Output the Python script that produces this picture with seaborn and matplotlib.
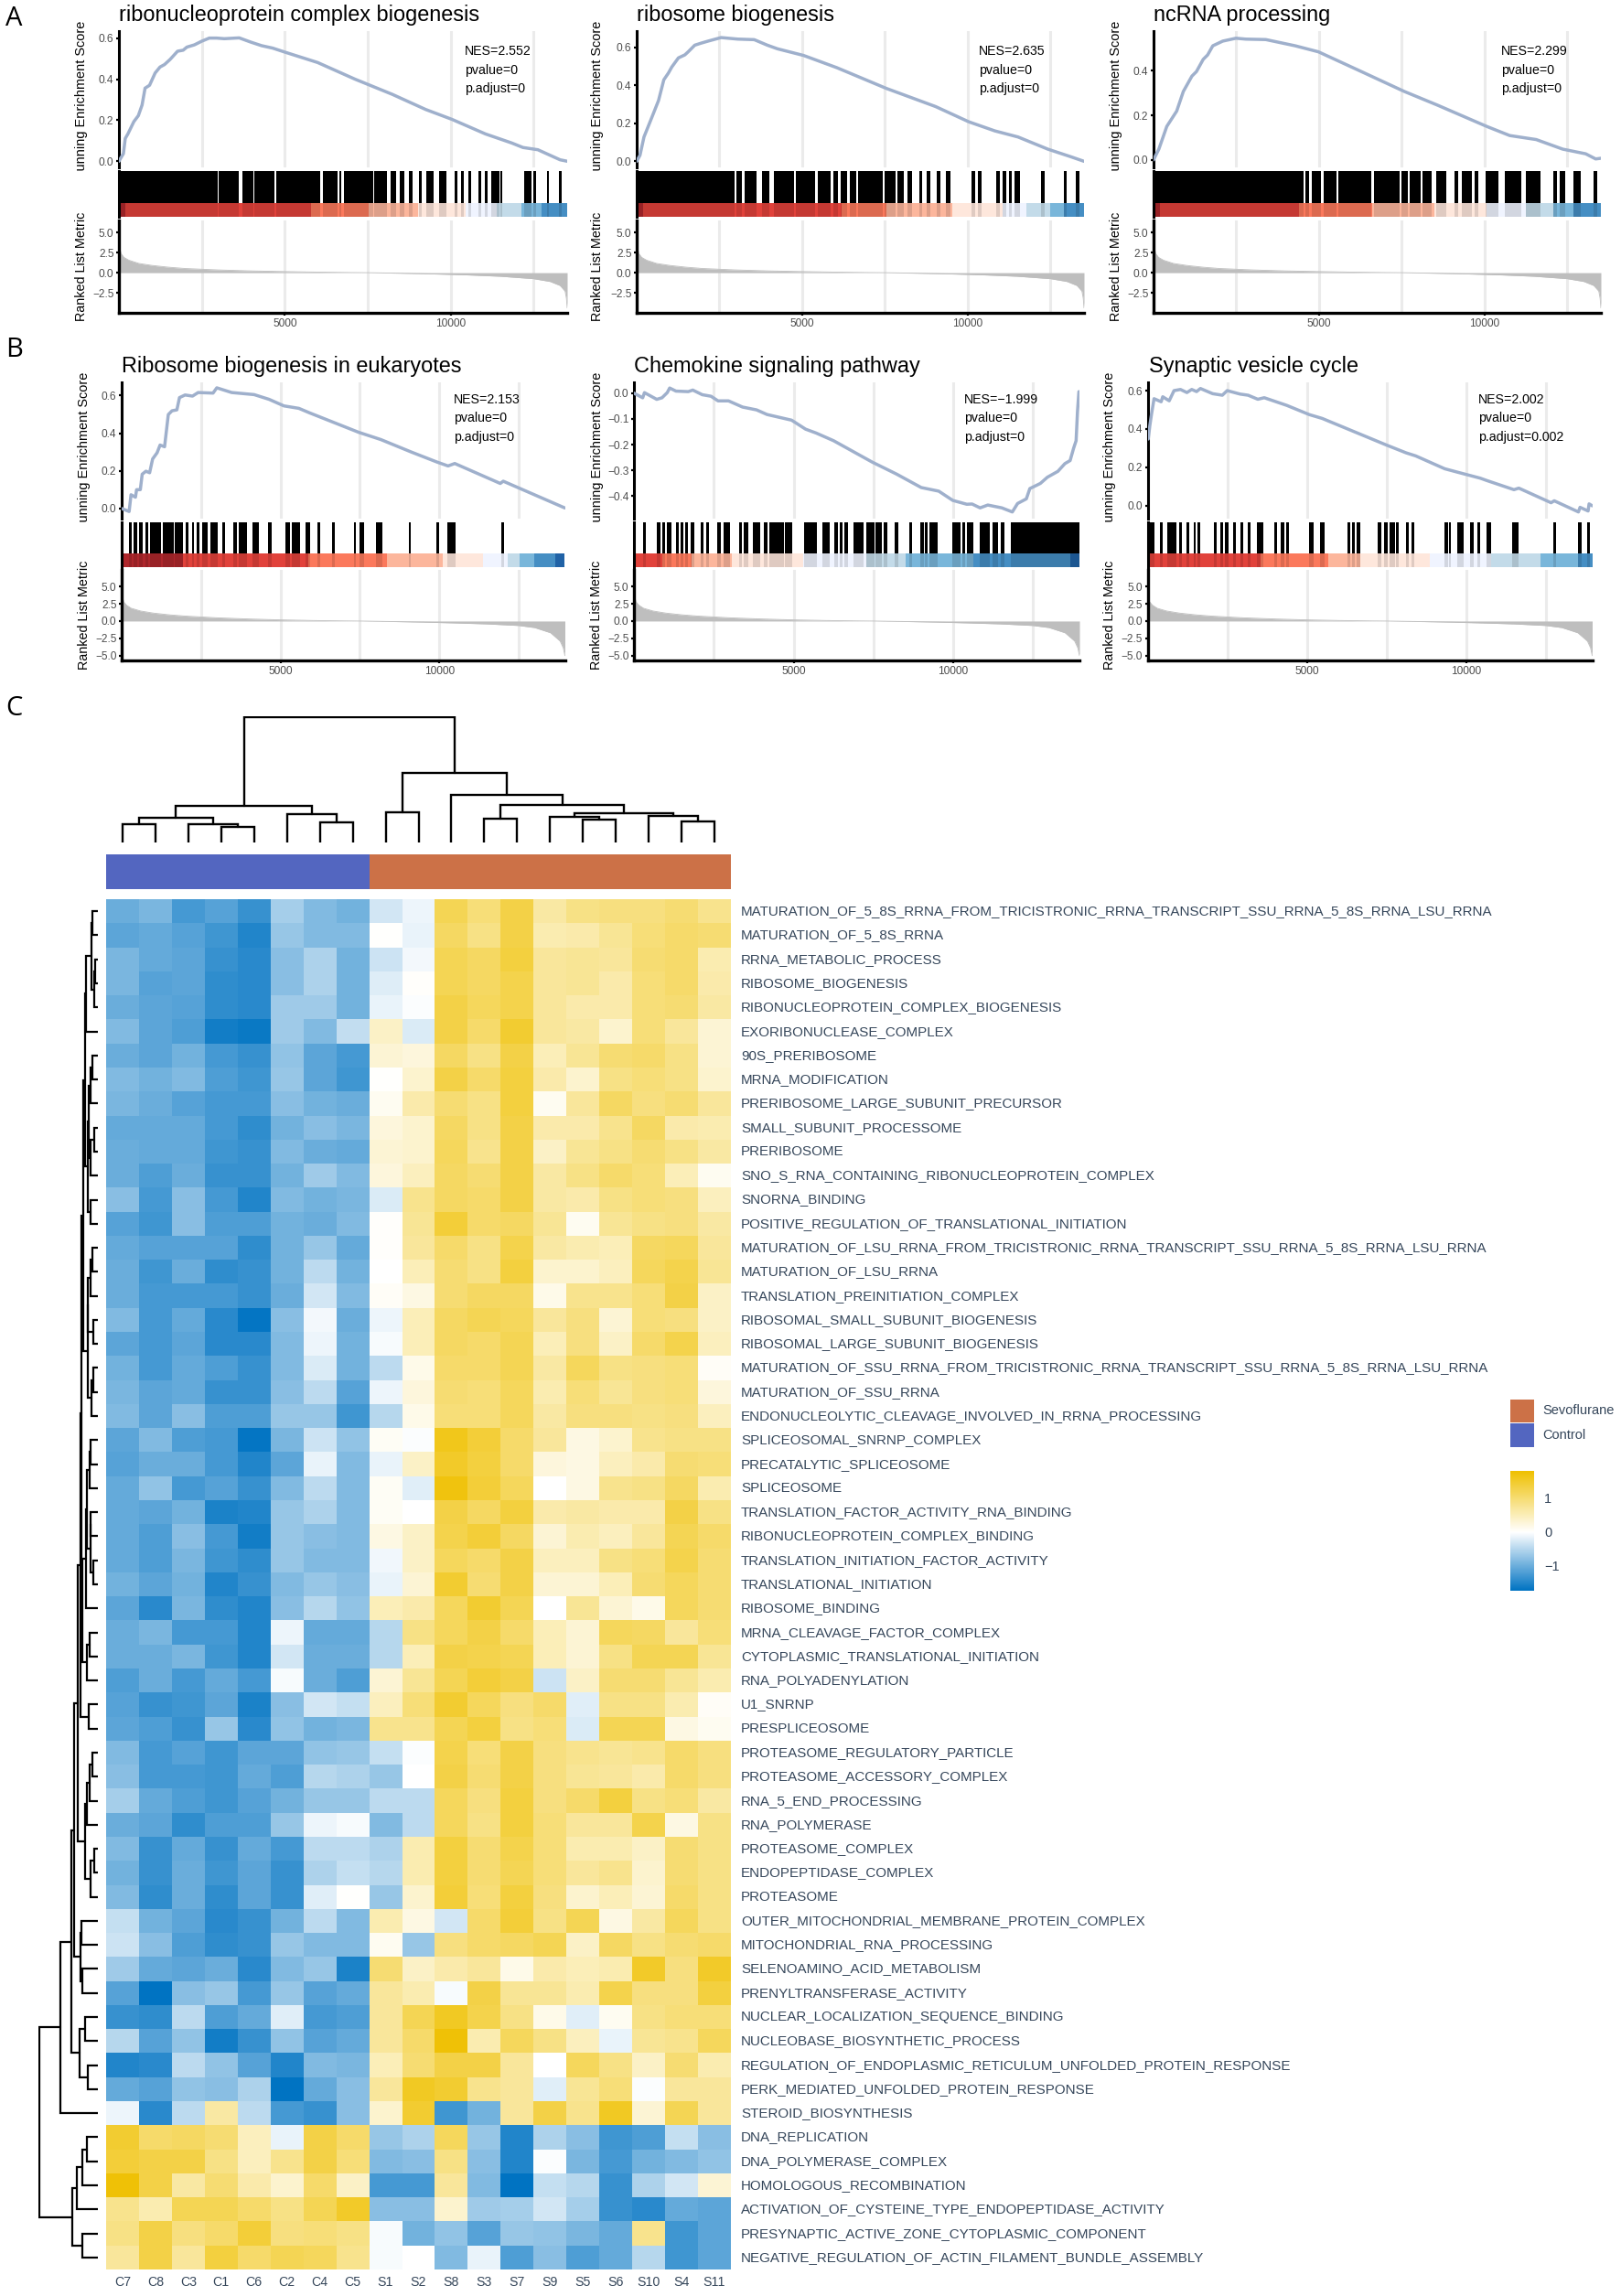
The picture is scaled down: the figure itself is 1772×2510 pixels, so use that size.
# GSEA enrichment panels (A, B) and pathway score heatmap (C)
import matplotlib
matplotlib.use("Agg")
import matplotlib.pyplot as plt
from matplotlib.colors import LinearSegmentedColormap, ListedColormap
from matplotlib.patches import Rectangle
from matplotlib.transforms import Bbox, ScaledTranslation
import pandas as pd
import seaborn as sns

W, H = 1772, 2510

# ---- running enrichment score curves (rank, ES) ----
es_a1_x = [0, 79, 135, 191, 270, 360, 450, 585, 698, 788, 923, 1092, 1239, 1374, 1543, 1768, 1937, 2049, 2275, 2500, 2725, 2950, 3175, 3626, 3964, 4301, 4639, 5033, 5990, 7115, 8240, 9250, 10040, 11050, 11840, 12180, 12630, 13300, 13513]
es_a1_y = [0, .022, .037, .111, .133, .163, .193, .222, .274, .356, .370, .430, .459, .471, .496, .536, .541, .556, .567, .585, .600, .600, .597, .601, .581, .563, .551, .530, .481, .400, .326, .252, .204, .133, .089, .067, .056, .007, 0]
es_a2_x = [0, 100, 220, 460, 660, 820, 957, 1060, 1260, 1455, 1555, 1755, 1953, 2150, 2550, 3049, 3550, 3946, 4250, 5040, 6040, 7535, 9030, 10030, 10820, 11520, 12420, 13115, 13513]
es_a2_y = [0, .032, .128, .232, .32, .429, .464, .496, .544, .56, .576, .611, .622, .632, .651, .643, .64, .611, .592, .557, .493, .384, .288, .208, .16, .128, .064, .024, 0]
es_a3_x = [0, 160, 400, 700, 900, 1160, 1295, 1500, 1634, 1790, 2090, 2490, 2790, 3390, 4280, 4980, 6180, 7575, 8570, 10065, 10760, 11560, 12360, 13055, 13355, 13513]
es_a3_y = [0, .048, .150, .219, .307, .376, .396, .451, .471, .512, .533, .546, .542, .540, .512, .485, .403, .307, .246, .150, .109, .091, .048, .027, .004, .007]
es_b1_x = [0, 235, 294, 434, 470, 587, 646, 763, 880, 974, 1115, 1209, 1350, 1468, 1585, 1738, 1820, 1996, 2230, 2407, 2876, 2994, 3463, 4168, 4637, 5107, 5577, 5929, 7455, 8160, 9100, 9920, 10273, 10484, 11916, 12010, 13947]
es_b1_y = [0, -.016, .073, .06, .10, .10, .182, .198, .19, .263, .296, .337, .328, .499, .519, .524, .589, .603, .597, .616, .613, .641, .616, .605, .58, .545, .532, .507, .405, .366, .301, .247, .226, .239, .133, .145, .003]
es_b2_x = [0, 274, 329, 713, 878, 1042, 1119, 1316, 1700, 1843, 2139, 2413, 2633, 2962, 3400, 3839, 4168, 4936, 5375, 5704, 6253, 7460, 8228, 8996, 9544, 9983, 10422, 10587, 10839, 11080, 11519, 11848, 12013, 12287, 12397, 12726, 12945, 13275, 13494, 13658, 13768, 13845, 13889, 13933]
es_b2_y = [0, -.018, .002, -.024, -.018, .002, .02, .008, .006, .012, -.006, -.012, -.03, -.03, -.054, -.065, -.083, -.105, -.14, -.155, -.185, -.268, -.315, -.367, -.381, -.417, -.432, -.431, -.446, -.435, -.446, -.462, -.429, -.411, -.371, -.351, -.327, -.304, -.274, -.262, -.214, -.185, -.071, .006]
es_b3_x = [20, 71, 121, 202, 425, 475, 678, 829, 1031, 1233, 1385, 1537, 1658, 2042, 2345, 2497, 2901, 3154, 3458, 3660, 4368, 5075, 5480, 7502, 8109, 8412, 9322, 9727, 10435, 10637, 11496, 11648, 12659, 12760, 13518, 13569, 13822, 13852, 13953]
es_b3_y = [.348, .419, .475, .558, .542, .568, .547, .6, .606, .59, .606, .595, .611, .584, .576, .6, .582, .576, .555, .563, .523, .475, .455, .316, .276, .26, .193, .175, .144, .132, .084, .092, .016, .026, -.032, -.008, -.027, .01, 0]

# ---- ranked list metric ----
metric_a_x = [1, 20, 60, 150, 300, 600, 1000, 1500, 2000, 3000, 4000, 5000, 6000, 7000, 7500, 8500, 9500, 10500, 11500, 12500, 13000, 13300, 13450, 13490, 13513]
metric_a_y = [4.8, 3.2, 2.4, 1.9, 1.55, 1.15, .9, .68, .52, .34, .22, .14, .07, .015, 0, -.07, -.16, -.28, -.45, -.75, -1.1, -1.6, -2.3, -3.2, -4.4]
metric_b_x = [1, 20, 60, 150, 300, 600, 1000, 1500, 2000, 3000, 4000, 5000, 6000, 7000, 7500, 8500, 9500, 10500, 11500, 12500, 13000, 13500, 13800, 13900, 13950]
metric_b_y = [5.2, 3.7, 2.8, 2.3, 1.85, 1.45, 1.15, .9, .72, .47, .3, .17, .08, .02, 0, -.07, -.16, -.28, -.42, -.65, -.95, -1.7, -2.9, -3.9, -5.0]

# ---- gene set hits, as rank spans ----
rug_a1 = [(0, 2973), (3006, 3626), (3716, 4042), (4087, 4695), (4751, 6080), (6148, 6598), (6640, 6700), (6778, 7679), (7700, 8073), (8186, 8366), (8468, 8614), (8749, 8862), (9053, 9120), (9255, 9492), (9650, 9886), (10112, 10190), (10314, 10393), (10539, 10618), (10832, 10922), (11023, 11114), (11237, 11485), (11508, 11564), (12217, 12431), (12499, 12578), (12893, 12972), (13264, 13343)]
rug_a2 = [(0, 2950), (3010, 3170), (3250, 3610), (3790, 4005), (4145, 4745), (4805, 5400), (5480, 5860), (5940, 6080), (6160, 6360), (6440, 6640), (6700, 7435), (7495, 7830), (7870, 8070), (8190, 8310), (8530, 8630), (8750, 8870), (9070, 9170), (9350, 9490), (10125, 10225), (10305, 10405), (10860, 10960), (11060, 11160), (11240, 11340), (11420, 11580), (12220, 12320), (12895, 12995), (13270, 13370)]
rug_a3 = [(0, 4525), (4585, 4705), (4785, 5060), (5140, 5540), (5580, 6580), (6655, 7435), (7495, 7675), (7735, 8070), (8130, 8410), (8530, 8830), (9090, 9210), (9310, 9605), (9705, 9805), (10025, 10405), (10625, 11120), (11240, 11700), (12080, 12200), (12280, 12440), (12675, 12915), (13295, 13395)]
rug_b1 = [(235, 317), (387, 493), (552, 657), (740, 822), (904, 1233), (1291, 1644), (1679, 1937), (2019, 2113), (2207, 2289), (2348, 2442), (2524, 2700), (2782, 3029), (3158, 3264), (3522, 3616), (3698, 3956), (4109, 4320), (4602, 4708), (5142, 5306), (5342, 5612), (5788, 5929), (6164, 6246), (6633, 6715), (7302, 7384), (7490, 7631), (8018, 8218), (9028, 9110), (9897, 9991), (10249, 10507), (11940, 12022)]
rug_b2 = [(274, 373), (702, 823), (878, 965), (1031, 1163), (1316, 1404), (1448, 1536), (1602, 1689), (1777, 1887), (2095, 2172), (2271, 2359), (2600, 2710), (2797, 2995), (3280, 3379), (3434, 3587), (3730, 3949), (4070, 4180), (4234, 4684), (4717, 4969), (5331, 5715), (5902, 6143), (6275, 6385), (6439, 6527), (6582, 6714), (6878, 7185), (7262, 7547), (7569, 7767), (7822, 7942), (8173, 8282), (8622, 8721), (8952, 9072), (9105, 9193), (9248, 9522), (9972, 10224), (10290, 10356), (10422, 10641), (10816, 11156), (11233, 11409), (11497, 11606), (11793, 12791), (12813, 13680), (13702, 13953)]
rug_b3 = [(0, 222), (384, 485), (627, 890), (991, 1082), (1223, 1314), (1446, 1517), (1577, 1658), (2073, 2174), (2295, 2366), (2426, 2548), (2689, 2770), (2912, 2993), (3154, 3235), (3437, 3630), (3963, 4054), (4186, 4287), (4337, 4428), (5055, 5197), (5399, 5540), (6278, 6369), (6420, 6511), (6572, 6662), (7229, 7320), (7431, 7522), (7583, 7764), (7785, 7876), (8108, 8199), (8270, 8361), (9321, 9422), (9453, 9524), (9726, 9908), (10130, 10221), (10353, 10444), (10636, 10787), (11445, 11546), (11566, 11647), (12718, 12809), (13517, 13608), (13790, 13881)]

# ---- colour strip: bin edges and level into strip_colors ----
strip_colors = ["#A50F15", "#DE2D26", "#FB6A4A", "#FCAE91", "#FEE5D9", "#EFF3FF", "#BDD7E7", "#6BAED6", "#3182BD", "#08519C"]
strip_a1 = [0, 190, 5790, 7520, 9010, 10440, 11400, 12130, 12750, 13513]
strip_a2 = [0, 180, 6200, 7535, 9545, 11060, 11780, 12495, 12895, 13513]
strip_a3 = [0, 200, 4385, 6600, 8470, 10065, 11260, 12080, 12695, 13513]
strip_b1 = [0, 1937, 5882, 8347, 10108, 11376, 12151, 12526, 12973, 13642, 13947]
strip_b2 = [0, 900, 1810, 3072, 5288, 7273, 8513, 10641, 13658, 13953]
strip_b3 = [0, 3559, 5662, 6662, 8866, 10787, 12334, 13517, 13953]
levels_a = [0, 1, 2, 3, 4, 5, 6, 7, 8]
levels_b1 = [0, 1, 2, 3, 4, 5, 6, 7, 8, 9]
levels_b2 = [1, 2, 3, 4, 5, 6, 7, 8, 9]
levels_b3 = [1, 2, 3, 4, 5, 6, 7, 8]

titles = ["ribonucleoprotein complex biogenesis", "ribosome biogenesis", "ncRNA processing",
          "Ribosome biogenesis in eukaryotes", "Chemokine signaling pathway", "Synaptic vesicle cycle"]
nes_labels = [["NES=2.552", "pvalue=0", "p.adjust=0"], ["NES=2.635", "pvalue=0", "p.adjust=0"],
              ["NES=2.299", "pvalue=0", "p.adjust=0"], ["NES=2.153", "pvalue=0", "p.adjust=0"],
              ["NES=\u22121.999", "pvalue=0", "p.adjust=0"], ["NES=2.002", "pvalue=0", "p.adjust=0.002"]]

# ---- heatmap ----
col_labels = ["C7", "C8", "C3", "C1", "C6", "C2", "C4", "C5", "S1", "S2", "S8", "S3", "S7", "S9", "S5", "S6", "S10", "S4", "S11"]
sample_group = [0] * 8 + [1] * 11
row_labels = [
    "MATURATION_OF_5_8S_RRNA_FROM_TRICISTRONIC_RRNA_TRANSCRIPT_SSU_RRNA_5_8S_RRNA_LSU_RRNA",
    "MATURATION_OF_5_8S_RRNA", "RRNA_METABOLIC_PROCESS", "RIBOSOME_BIOGENESIS",
    "RIBONUCLEOPROTEIN_COMPLEX_BIOGENESIS", "EXORIBONUCLEASE_COMPLEX", "90S_PRERIBOSOME",
    "MRNA_MODIFICATION", "PRERIBOSOME_LARGE_SUBUNIT_PRECURSOR", "SMALL_SUBUNIT_PROCESSOME",
    "PRERIBOSOME", "SNO_S_RNA_CONTAINING_RIBONUCLEOPROTEIN_COMPLEX", "SNORNA_BINDING",
    "POSITIVE_REGULATION_OF_TRANSLATIONAL_INITIATION",
    "MATURATION_OF_LSU_RRNA_FROM_TRICISTRONIC_RRNA_TRANSCRIPT_SSU_RRNA_5_8S_RRNA_LSU_RRNA",
    "MATURATION_OF_LSU_RRNA", "TRANSLATION_PREINITIATION_COMPLEX",
    "RIBOSOMAL_SMALL_SUBUNIT_BIOGENESIS", "RIBOSOMAL_LARGE_SUBUNIT_BIOGENESIS",
    "MATURATION_OF_SSU_RRNA_FROM_TRICISTRONIC_RRNA_TRANSCRIPT_SSU_RRNA_5_8S_RRNA_LSU_RRNA",
    "MATURATION_OF_SSU_RRNA", "ENDONUCLEOLYTIC_CLEAVAGE_INVOLVED_IN_RRNA_PROCESSING",
    "SPLICEOSOMAL_SNRNP_COMPLEX", "PRECATALYTIC_SPLICEOSOME", "SPLICEOSOME",
    "TRANSLATION_FACTOR_ACTIVITY_RNA_BINDING", "RIBONUCLEOPROTEIN_COMPLEX_BINDING",
    "TRANSLATION_INITIATION_FACTOR_ACTIVITY", "TRANSLATIONAL_INITIATION", "RIBOSOME_BINDING",
    "MRNA_CLEAVAGE_FACTOR_COMPLEX", "CYTOPLASMIC_TRANSLATIONAL_INITIATION", "RNA_POLYADENYLATION",
    "U1_SNRNP", "PRESPLICEOSOME", "PROTEASOME_REGULATORY_PARTICLE", "PROTEASOME_ACCESSORY_COMPLEX",
    "RNA_5_END_PROCESSING", "RNA_POLYMERASE", "PROTEASOME_COMPLEX", "ENDOPEPTIDASE_COMPLEX",
    "PROTEASOME", "OUTER_MITOCHONDRIAL_MEMBRANE_PROTEIN_COMPLEX", "MITOCHONDRIAL_RNA_PROCESSING",
    "SELENOAMINO_ACID_METABOLISM", "PRENYLTRANSFERASE_ACTIVITY",
    "NUCLEAR_LOCALIZATION_SEQUENCE_BINDING", "NUCLEOBASE_BIOSYNTHETIC_PROCESS",
    "REGULATION_OF_ENDOPLASMIC_RETICULUM_UNFOLDED_PROTEIN_RESPONSE",
    "PERK_MEDIATED_UNFOLDED_PROTEIN_RESPONSE", "STEROID_BIOSYNTHESIS", "DNA_REPLICATION",
    "DNA_POLYMERASE_COMPLEX", "HOMOLOGOUS_RECOMBINATION",
    "ACTIVATION_OF_CYSTEINE_TYPE_ENDOPEPTIDASE_ACTIVITY",
    "PRESYNAPTIC_ACTIVE_ZONE_CYTOPLASMIC_COMPONENT",
    "NEGATIVE_REGULATION_OF_ACTIN_FILAMENT_BUNDLE_ASSEMBLY"]

scores = [
    [-1.0, -.9, -1.25, -1.15, -1.35, -.6, -.85, -.95, -.3, -.12, 1.2, .95, 1.3, .65, .85, .9, .9, 1.0, .8],
    [-1.1, -1.05, -1.15, -1.3, -1.5, -.7, -.85, -.85, .02, -.15, 1.1, .85, 1.3, .55, .6, .75, .95, 1.05, 1.0],
    [-.9, -1.05, -1.1, -1.35, -1.45, -.8, -.55, -.95, -.35, -.08, 1.2, 1.1, 1.35, .7, .75, .7, 1.0, 1.05, .55],
    [-.9, -1.15, -1.1, -1.4, -1.45, -.8, -.55, -.95, -.22, .03, 1.2, 1.1, 1.25, .7, .75, .6, .95, 1.05, .6],
    [-1.0, -1.1, -1.15, -1.4, -1.45, -.65, -.65, -.95, -.15, -.03, 1.3, 1.15, 1.25, .7, .6, .6, .95, 1.0, .65],
    [-.85, -1.1, -1.2, -1.6, -1.65, -.65, -.85, -.42, .4, -.25, 1.3, 1.05, 1.45, .7, .65, .35, .95, .7, .3],
    [-1.0, -1.1, -.95, -1.25, -1.35, -.75, -1.1, -1.25, .3, .25, 1.1, .85, 1.3, .5, .75, 1.0, 1.05, .85, .3],
    [-.85, -.95, -.85, -1.2, -1.3, -.7, -1.1, -1.3, .01, .35, 1.3, 1.05, 1.35, .6, .35, .85, .95, .85, .35],
    [-.9, -1.0, -1.15, -1.25, -1.25, -.8, -.95, -1.0, .1, .6, 1.0, .85, 1.35, .1, .7, 1.1, .9, 1.0, .7],
    [-1.05, -1.05, -1.05, -1.25, -1.4, -.95, -.8, -.9, .25, .35, 1.1, .85, 1.3, .6, .6, .8, 1.1, .6, .55],
    [-1.0, -1.05, -1.05, -1.3, -1.35, -.85, -1.0, -1.05, .3, .35, 1.15, .8, 1.3, .4, .75, .85, 1.0, .85, .65],
    [-1.0, -1.2, -1.0, -1.35, -1.35, -.95, -.65, -.85, .25, .45, 1.1, 1.0, 1.3, .65, .85, 1.05, .95, .5, .1],
    [-.8, -1.25, -.8, -1.25, -1.5, -.85, -.95, -.9, -.25, .8, 1.1, 1.05, 1.3, .65, .6, .85, .95, .9, .45],
    [-1.15, -1.3, -.8, -1.2, -1.2, -.95, -1.0, -.85, .03, .75, 1.4, 1.05, 1.1, .75, .1, .75, .85, .9, .65],
    [-1.05, -1.15, -1.15, -1.15, -1.4, -.95, -.7, -1.05, .03, .7, 1.05, .85, 1.25, .65, .55, .5, 1.1, 1.15, .7],
    [-1.0, -1.3, -1.0, -1.4, -1.35, -.95, -.45, -.95, 0, .5, 1.0, .85, 1.35, .35, .35, .45, 1.15, 1.25, .75],
    [-1.0, -1.25, -1.25, -1.25, -1.35, -1.0, -.3, -.85, .05, .2, 1.0, 1.1, 1.1, .15, .8, .8, .95, 1.3, .4],
    [-.85, -1.25, -1.05, -1.45, -1.7, -.8, -.08, -1.0, -.12, .5, 1.1, 1.2, 1.15, .7, .9, .3, .95, .9, .4],
    [-1.1, -1.25, -1.1, -1.45, -1.45, -.85, -.12, -.95, -.05, .5, 1.1, 1.05, 1.2, .5, .9, .4, 1.05, 1.25, .45],
    [-.95, -1.25, -1.05, -1.2, -1.35, -.85, -.25, -.95, -.45, .15, 1.05, 1.05, 1.2, .65, 1.15, .85, .9, .95, .05],
    [-.9, -1.1, -1.05, -1.35, -1.35, -.8, -.45, -1.15, -.12, .25, 1.0, .95, 1.15, .55, .95, .75, .9, .95, .25],
    [-.85, -1.1, -.8, -1.2, -1.2, -.7, -.7, -1.3, -.5, .15, .95, .95, 1.15, .65, .9, .9, .85, .9, .45],
    [-1.1, -.85, -1.2, -1.25, -1.7, -.9, -.35, -.75, .07, -.03, 1.6, 1.4, 1.05, .7, .2, .35, .8, .85, .85],
    [-1.15, -1.0, -1.0, -1.25, -1.5, -1.1, -.15, -.85, -.15, .4, 1.5, 1.35, 1.05, .25, .2, .45, .6, 1.0, .95],
    [-1.05, -.75, -1.25, -1.15, -1.35, -.85, -.45, -.85, .07, -.2, 1.7, 1.4, 1.15, 0, .2, .8, .85, 1.1, .55],
    [-1.05, -1.1, -.95, -1.55, -1.5, -.7, -.55, -.85, .07, 0, 1.3, 1.1, 1.35, .6, .65, .6, .6, 1.3, .85],
    [-1.05, -1.2, -.8, -1.25, -1.6, -.7, -.8, -.85, .2, .4, 1.25, 1.4, 1.1, .3, .55, .45, .7, 1.2, 1.05],
    [-1.05, -1.2, -.9, -1.3, -1.4, -.7, -.85, -.85, -.1, .4, 1.15, 1.05, 1.3, .45, .45, .85, .95, 1.25, 1.0],
    [-.95, -1.1, -.95, -1.5, -1.35, -.85, -.7, -.8, -.15, .3, 1.45, 1.0, 1.3, .3, .3, .5, 1.0, 1.15, 1.0],
    [-1.1, -1.45, -.9, -1.4, -1.5, -.8, -.5, -.75, .5, .6, 1.15, 1.45, 1.2, 0, .75, .3, .15, 1.15, 1.0],
    [-1.0, -.9, -1.25, -1.25, -1.5, -.12, -1.05, -1.05, -.5, .85, 1.15, 1.3, 1.05, .5, .3, 1.15, 1.1, .7, .95],
    [-1.0, -1.0, -.9, -1.3, -1.5, -.3, -1.0, -1.0, -.5, .5, 1.3, 1.25, 1.2, .5, .3, .85, 1.2, 1.2, .75],
    [-1.2, -1.0, -1.25, -1.05, -1.25, -.06, -1.0, -1.2, .3, .75, 1.2, 1.4, 1.3, -.35, .4, 1.0, 1.0, .75, .55],
    [-1.15, -1.35, -1.3, -1.1, -1.55, -.8, -.3, -.4, .45, .95, 1.45, 1.15, .9, 1.05, -.2, .85, .85, .55, .05],
    [-1.1, -1.2, -1.35, -.7, -1.45, -.75, -.95, -.9, .8, .8, 1.2, 1.35, .85, .95, -.25, 1.2, 1.2, .2, .1],
    [-.85, -1.25, -1.15, -1.3, -1.1, -1.1, -.75, -.7, -.4, -.03, 1.25, .95, 1.3, .9, .8, .75, .8, 1.05, .9],
    [-.8, -1.25, -1.25, -1.3, -1.05, -1.2, -.5, -.55, -.7, 0, 1.3, 1.0, 1.3, .9, .75, .7, .6, 1.05, .9],
    [-.6, -1.05, -1.2, -1.3, -1.15, -.95, -.7, -.7, -.45, -.45, 1.15, .9, 1.35, .9, 1.05, 1.35, .85, .95, .65],
    [-1.0, -1.1, -1.4, -1.2, -1.2, -.7, -.12, -.05, -.85, -.45, 1.15, .85, 1.35, .95, .7, .7, 1.25, .2, .85],
    [-.85, -1.35, -1.05, -1.35, -1.05, -1.25, -.45, -.45, -.55, .55, 1.35, 1.0, 1.25, .95, .55, .55, .4, 1.0, .85],
    [-.95, -1.35, -1.0, -1.3, -1.1, -1.35, -.55, -.4, -.5, .55, 1.35, 1.0, 1.2, .95, .7, .8, .35, 1.0, .85],
    [-.85, -1.4, -1.0, -1.4, -1.1, -1.35, -.2, .02, -.7, .35, 1.4, .95, 1.35, .9, .35, .5, .3, 1.05, .85],
    [-.4, -.95, -1.1, -1.45, -1.35, -.95, -.45, -.85, .55, .2, -.3, 1.05, 1.4, .85, 1.2, .2, .65, 1.15, .85],
    [-.35, -.8, -1.2, -1.4, -1.35, -.7, -.85, -.85, .1, -.7, .9, 1.05, 1.1, 1.2, .4, 1.1, .85, 1.0, 1.05],
    [-.65, -1.05, -1.1, -1.0, -1.45, -.85, -.7, -1.55, 1.0, .4, .6, .7, .15, .6, .5, .55, 1.5, .9, 1.5],
    [-1.15, -1.75, -.8, -.7, -1.25, -.7, -1.15, -1.05, .7, .55, -.05, 1.3, .75, .75, .55, 1.25, .9, .9, 1.35],
    [-1.35, -1.4, -.45, -1.2, -1.05, -.2, -1.25, -1.2, .7, 1.2, 1.55, 1.25, .85, .15, -.2, .1, .85, .95, .95],
    [-.5, -1.15, -.75, -1.6, -1.35, -.75, -1.15, -1.05, .7, 1.05, 1.75, .55, 1.15, .85, .45, -.15, .75, .8, 1.15],
    [-1.5, -1.45, -.45, -.75, -1.15, -1.5, -.85, -.9, .5, 1.0, 1.3, 1.3, .7, 0, 1.15, .85, .4, 1.0, .55],
    [-1.05, -1.15, -.75, -.8, -.55, -1.85, -1.05, -.8, .7, 1.55, 1.45, .8, .7, -.2, .75, .95, -.03, .7, .7],
    [-.12, -1.45, -.45, .65, -.45, -1.25, -1.35, -.8, .35, 1.45, -1.3, -.95, .7, 1.3, .8, 1.55, .3, 1.2, .7],
    [1.45, 1.05, 1.1, 1.0, .45, -.15, 1.3, 1.05, -.7, -.55, 1.15, -.7, -1.5, -.55, -.8, -1.3, -1.2, -.4, -.8],
    [1.4, 1.3, 1.3, .85, .45, .8, 1.3, .95, -.85, -.8, .85, -.8, -1.5, -.03, -.9, -1.25, -.95, -.85, -.75],
    [1.75, 1.3, .65, 1.0, .6, .35, 1.05, .4, -1.25, -1.25, .7, -.85, -1.85, -.4, -.5, -1.35, -.55, -.3, .3],
    [.8, .55, 1.2, 1.2, 1.05, .85, 1.2, 1.5, -.8, -.8, .35, -.65, -.6, -.3, -.6, -1.35, -1.45, -1.05, -1.1],
    [.85, 1.3, .9, 1.05, 1.4, .9, .95, .85, -.05, -.95, -.75, -1.15, -.7, -.75, -.9, -1.05, .8, -1.3, -1.1],
    [.7, 1.3, .7, 1.35, 1.05, 1.2, 1.15, .8, -.05, 0, -.85, -.15, -1.2, -.8, -1.2, -1.05, -.5, -1.3, -1.1]]

# ---- dendrograms: (height, left, right), plain ints are leaves ----
col_tree = (412,
            (120, (80, (59, 0, 1), (60, 2, (51, 3, 4))), (94, 5, (66, 6, 7))),
            (228, (98, 8, 9),
             (155, 10, (124, (78, 11, 12),
                        (96, (84, 13, (76, 14, 15)), (88, 16, (69, 17, 18)))))))

g1 = (39, (20, (18, 0, 1), (13, (9, 2, 3), 4)), 5)
g2 = (32, (29, (25, (17, 6, 7), 8), (23, (12, 9, 10), 11)), (25, 12, 13))
g3 = (34, (33, (25, (19, 14, 15), 16), (14, 17, 18)), (21, (16, 19, 20), 21))
g123 = (48, (43, g1, g2), g3)
g4 = (40, (35, (28, (23, 22, 23), 24), (25, (23, 25, 26), (16, 27, 28))), 29)
g5 = (37, (27, 30, 31), 32)
g6 = (30, 33, 34)
g7 = (43, (37, (27, (17, 35, 36), 37), 38), (23, (11, 39, 40), 41))
g8 = (58, (53, 42, 43), (50, 44, 45))
g9 = (59, (43, 46, 47), (33, 48, 49))
upper = (122, (88, (77, (67, (57, (53, g123, (50, g4, g5)), g6), g7), g8), g9), 50)
lower = (83, (68, (50, (35, 51, 52), 53), 54), (52, 55, 56))
row_tree = (193, upper, lower)

BLUE, YELLOW = "#0073C2", "#EFC000"
VMIN, VMAX = -1.73, 1.8
group_colors = ["#5366C0", "#CC7147"]
LINE_COLOR = "#9FB0CC"
GRID_COLOR = "#EBEBEB"
TEXT_DARK = "#35465A"

sns.set_theme(style="white")
plt.rcParams["font.family"] = ["Liberation Sans", "DejaVu Sans"]

fig = plt.figure(figsize=(W / 100, H / 100), dpi=100)


def px_axes(x0, y0, x1, y1):
    return fig.add_axes([x0 / W, 1 - y1 / H, (x1 - x0) / W, (y1 - y0) / H])


def gsea_panel(box, rows, xmax, es, ylim, yticks, rug, edges, levels, metric, mlim, mticks, title, nes, title_xy, nes_xy, lab_x):
    x0, x1 = box
    top, mid, bar, low, bottom = rows

    ax = px_axes(x0, top, x1, mid)
    for g in [2500, 5000, 7500, 10000, 12500]:
        ax.axvline(g, color=GRID_COLOR, lw=2.2, zorder=0)
    sns.lineplot(x=es[0], y=es[1], ax=ax, color=LINE_COLOR, lw=2.5, sort=False, errorbar=None, zorder=3)
    ax.set_xlim(0, xmax)
    ax.set_ylim(*ylim)
    ax.set_yticks(yticks)
    ax.set_xticks([])
    ax.set_xlabel("")
    ax.set_ylabel("")
    sns.despine(ax=ax, bottom=True)
    ax.spines["left"].set_linewidth(2.2)
    ax.spines["left"].set_color("black")
    ax.tick_params(axis="y", left=True, length=2, width=1.6, color="black", labelsize=8.6, labelcolor="#4D4D4D", pad=2)

    # hit rug above the colour strip
    rug_h = bar - mid - 4
    rx = px_axes(x0, mid + 4, x1, bar + 15)
    rx.set_xlim(0, xmax)
    rx.set_ylim(-15, rug_h)
    for i, lv in enumerate(levels):
        rx.axvspan(edges[i], edges[i + 1], ymin=0, ymax=15 / (rug_h + 15), color=strip_colors[lv], alpha=0.9, lw=0)
    spans = [(a, b - a) for a, b in rug]
    rx.broken_barh(spans, (0, rug_h), facecolor="black", lw=0)
    rx.broken_barh(spans, (-15, 15), facecolor="black", alpha=0.12, lw=0)
    rx.set_xticks([])
    rx.set_yticks([])
    sns.despine(ax=rx, bottom=True)
    rx.spines["left"].set_linewidth(2.2)
    rx.spines["left"].set_color("black")

    mx = px_axes(x0, low, x1, bottom)
    for g in [2500, 5000, 7500, 10000, 12500]:
        mx.axvline(g, color=GRID_COLOR, lw=2.2, zorder=0)
    sns.lineplot(x=metric[0], y=metric[1], ax=mx, color="#BEBEBE", lw=0.6, sort=False, errorbar=None, zorder=2)
    mx.fill_between(metric[0], metric[1], 0, color="#BEBEBE", lw=0, zorder=2)
    mx.set_xlim(0, xmax)
    mx.set_ylim(*mlim)
    mx.set_yticks(mticks)
    mx.set_xticks([5000, 10000])
    mx.set_xlabel("")
    mx.set_ylabel("")
    sns.despine(ax=mx)
    for side in ["left", "bottom"]:
        mx.spines[side].set_linewidth(2.4)
        mx.spines[side].set_color("black")
    mx.tick_params(axis="both", left=True, bottom=True, length=2, width=1.6, color="black", labelsize=8.6, labelcolor="#4D4D4D", pad=2)

    fig.text(title_xy[0] / W, 1 - title_xy[1] / H, title, fontsize=16.9, color="black", ha="left", va="center")
    for j, line in enumerate(nes):
        fig.text(nes_xy[0] / W, 1 - (nes_xy[1] + j * 20.5) / H, line, fontsize=10.2, color="black", ha="left", va="center")

    # the source cuts the first letter of this label off at the panel edge
    es_label = fig.text(lab_x / W, 1 - (top - 11) / H, "Running Enrichment Score", rotation=90,
                        fontsize=10.45, color="black", ha="center", va="top")
    es_label.set_clip_box(Bbox([[0, H - mid - 5], [W, H]]))
    es_label.set_clip_on(True)
    fig.text(lab_x / W, 1 - (low + bottom - 1) / 2 / H, "Ranked List Metric", rotation=90,
             fontsize=10.4, color="black", ha="center", va="center")


rows_a = (34, 183, 222, 241, 342)
rows_b = (418, 567, 605, 623, 722)
mlim_a = (-5.0, 6.5)
mlim_b = (-5.7, 7.4)
mticks_a = [-2.5, 0, 2.5, 5]
mticks_b = [-5, -2.5, 0, 2.5, 5]
metric_a = (metric_a_x, metric_a_y)
metric_b = (metric_b_x, metric_b_y)

gsea_panel((130, 620), rows_a, 13513, (es_a1_x, es_a1_y), (-.03, .634), [0, .2, .4, .6], rug_a1, strip_a1, levels_a,
           metric_a, mlim_a, mticks_a, titles[0], nes_labels[0], (130, 16), (508, 56), 89)
gsea_panel((696, 1185), rows_a, 13513, (es_a2_x, es_a2_y), (-.032, .685), [0, .2, .4, .6], rug_a2, strip_a2, levels_a,
           metric_a, mlim_a, mticks_a, titles[1], nes_labels[1], (696, 16), (1070, 56), 653)
gsea_panel((1261, 1750), rows_a, 13513, (es_a3_x, es_a3_y), (-.034, .578), [0, .2, .4], rug_a3, strip_a3, levels_a,
           metric_a, mlim_a, mticks_a, titles[2], nes_labels[2], (1261, 16), (1641, 56), 1220)
gsea_panel((133, 617.5), rows_b, 13950, (es_b1_x, es_b1_y), (-.054, .67), [0, .2, .4, .6], rug_b1, strip_b1, levels_b1,
           metric_b, mlim_b, mticks_b, titles[3], nes_labels[3], (133, 400), (496, 437), 92)
gsea_panel((693, 1180), rows_b, 13950, (es_b2_x, es_b2_y), (-.488, .042), [-.4, -.3, -.2, -.1, 0], rug_b2, strip_b2, levels_b2,
           metric_b, mlim_b, mticks_b, titles[4], nes_labels[4], (693, 400), (1054, 437), 652.5)
gsea_panel((1254.5, 1740.5), rows_b, 13950, (es_b3_x, es_b3_y), (-.067, .643), [0, .2, .4, .6], rug_b3, strip_b3, levels_b3,
           metric_b, mlim_b, mticks_b, titles[5], nes_labels[5], (1256, 400), (1616, 437), 1213)

for letter, y in zip(["A", "B", "C"], [20, 383, 775]):
    fig.text(6 / W, 1 - y / H, letter, fontsize=21, family="Open Sans", color="black", ha="left", va="center")


def tree_draw(node, ax, flip):
    if isinstance(node, int):
        return node + 0.5, 0
    h, left, right = node
    pa, ha = tree_draw(left, ax, flip)
    pb, hb = tree_draw(right, ax, flip)
    pos = [pa, pa, pb, pb]
    hgt = [ha, h, h, hb]
    if flip:
        ax.plot(hgt, pos, color="black", lw=1.6, solid_joinstyle="miter")
    else:
        ax.plot(pos, hgt, color="black", lw=1.7, solid_joinstyle="miter")
    return (pa + pb) / 2, h


HX0, HX1, HY0, HY1 = 116, 799, 983, 2481

col_ax = px_axes(HX0, 783, HX1, 921)
tree_draw(col_tree, col_ax, False)
col_ax.set_xlim(0, 19)
col_ax.set_ylim(0, 414)
col_ax.axis("off")

row_ax = px_axes(42, HY0, 107, HY1)
tree_draw(row_tree, row_ax, True)
row_ax.set_ylim(57, 0)
row_ax.set_xlim(195, 0)
row_ax.axis("off")

ann_ax = px_axes(HX0, 934, HX1, 972)
sns.heatmap([sample_group], ax=ann_ax, cmap=ListedColormap(group_colors), cbar=False, xticklabels=False, yticklabels=False)

blue_yellow = LinearSegmentedColormap.from_list(
    "jco_div", [(0, BLUE), (-VMIN / (VMAX - VMIN), "white"), (1, YELLOW)])
score_df = pd.DataFrame(scores, index=row_labels, columns=col_labels)

heat_ax = px_axes(HX0, HY0, HX1, HY1)
cax = px_axes(1651, 1608, 1677, 1739)
sns.heatmap(score_df, ax=heat_ax, cbar_ax=cax, cmap=blue_yellow, vmin=VMIN, vmax=VMAX,
            xticklabels=True, yticklabels=True, linewidths=0)
heat_ax.yaxis.tick_right()
heat_ax.tick_params(axis="y", length=0, labelsize=10.9, labelcolor=TEXT_DARK, pad=8, labelrotation=0)
heat_ax.tick_params(axis="x", length=0, labelsize=10.2, labelcolor=TEXT_DARK, pad=5, labelrotation=0)
heat_ax.set_xlabel("")
heat_ax.set_ylabel("")
# nudge the row labels up a little to sit on the cell centres
nudge = ScaledTranslation(0, 1.5 / 100, fig.dpi_scale_trans)
for lab in heat_ax.get_yticklabels():
    lab.set_transform(lab.get_transform() + nudge)

cbar = heat_ax.collections[0].colorbar
cbar.set_ticks([-1, 0, 1])
cbar.set_ticklabels(["\u22121", "0", "1"])
cbar.outline.set_visible(False)
cax.tick_params(axis="y", left=True, right=True, direction="in", color="white", length=3, width=0.8,
                labelsize=10.5, labelcolor=TEXT_DARK, pad=8)

# annotation legend
for name, color, y0, y1 in [("Sevoflurane", group_colors[1], 1530, 1555), ("Control", group_colors[0], 1556, 1582)]:
    fig.add_artist(Rectangle((1651 / W, 1 - y1 / H), 26 / W, (y1 - y0) / H, transform=fig.transFigure, color=color, lw=0))
    fig.text(1686 / W, 1 - (y0 + y1) / 2 / H, name, fontsize=10.5, color=TEXT_DARK, ha="left", va="center")

fig.savefig("out.png", dpi=100)
